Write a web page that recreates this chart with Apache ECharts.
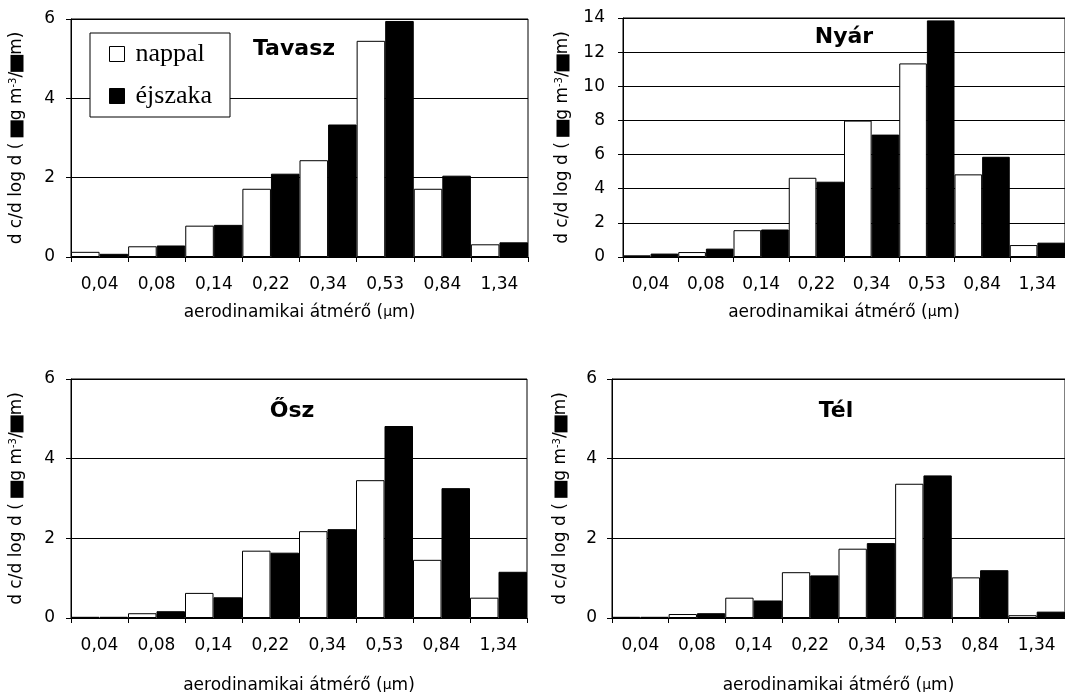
<!DOCTYPE html>
<html>
<head>
<meta charset="utf-8">
<script src="https://cdn.jsdelivr.net/npm/echarts@6/dist/echarts.min.js"></script>
<style>
  html, body { margin: 0; padding: 0; background: #fff; }
  #chart { width: 1065px; height: 696px; }
</style>
</head>
<body>
<div id="chart"></div>
<script>
// Aerodynamic diameter size classes (µm)
const categories = ['0,04', '0,08', '0,14', '0,22', '0,34', '0,53', '0,84', '1,34'];

// d c / d log d per season: daytime (nappal) and night (éjszaka)
const tavaszNappal  = [0.13, 0.27, 0.79, 1.72, 2.44, 5.45, 1.72, 0.32];
const tavaszEjszaka = [0.08, 0.29, 0.81, 2.10, 3.34, 5.95, 2.05, 0.37];

const nyarNappal  = [0.10, 0.29, 1.57, 4.64, 7.99, 11.34, 4.84, 0.70];
const nyarEjszaka = [0.20, 0.49, 1.61, 4.41, 7.17, 13.86, 5.87, 0.84];

const oszNappal  = [0.03, 0.12, 0.63, 1.69, 2.18, 3.46, 1.46, 0.51];
const oszEjszaka = [0.03, 0.17, 0.52, 1.64, 2.23, 4.82, 3.26, 1.16];

const telNappal  = [0.03, 0.10, 0.51, 1.15, 1.74, 3.37, 1.02, 0.07];
const telEjszaka = [0.03, 0.12, 0.44, 1.07, 1.88, 3.58, 1.20, 0.16];

const seasonTitles = ['Tavasz', 'Nyár', 'Ősz', 'Tél'];
const yMax = [6, 14, 6, 6];

const SANS = '"DejaVu Sans", sans-serif';
const SERIF = '"Liberation Serif", "Times New Roman", serif';

const grids = [
  { left: 71,  top: 19,  width: 457, height: 238 },
  { left: 623, top: 18,  width: 445, height: 239 },
  { left: 71,  top: 379, width: 456, height: 239 },
  { left: 612, top: 379, width: 455, height: 239 }
];
const yNameGap = [45, 51, 45, 42];
const yLabelMargin = [16, 18, 16, 15];
const xNameGap = [47, 47, 59, 59];
const titlePos = [[294, 49], [844, 37], [292, 411], [836, 411]];

const yName = 'd c/d log d ( {box|μ}g m{sup|-3}/{box|μ}m)';
const xName = 'aerodinamikai átmérő ({mu|μ}m)';

const xAxes = grids.map((g, i) => ({
  type: 'category',
  gridIndex: i,
  data: categories,
  boundaryGap: true,
  axisLine: { lineStyle: { color: '#000', width: 1 } },
  axisTick: { show: true, length: 5, lineStyle: { color: '#000' } },
  axisLabel: { color: '#000', fontSize: 17, fontFamily: SANS, margin: 19, interval: 0 },
  name: xName,
  nameLocation: 'middle',
  nameGap: xNameGap[i],
  nameTextStyle: {
    color: '#000', fontSize: 17, fontFamily: SANS,
    rich: { mu: { fontSize: 14, fontFamily: SANS, color: '#000' } }
  }
}));

const yAxes = grids.map((g, i) => ({
  type: 'value',
  gridIndex: i,
  min: 0,
  max: yMax[i],
  interval: 2,
  axisLine: { show: true, lineStyle: { color: '#000', width: 1 } },
  axisTick: { show: true, length: 5, lineStyle: { color: '#000' } },
  axisLabel: { color: '#000', fontSize: 17, fontFamily: SANS, margin: yLabelMargin[i] },
  splitLine: { show: true, lineStyle: { color: '#000', width: 1 } },
  name: yName,
  nameLocation: 'middle',
  nameRotate: 90,
  nameGap: yNameGap[i],
  nameTextStyle: {
    color: '#000', fontSize: 17, fontFamily: SANS,
    rich: {
      box: { backgroundColor: '#000', color: '#000', fontSize: 12, width: 17, height: 13, fontFamily: SANS },
      sup: { fontSize: 10, verticalAlign: 'top', padding: [0, 0, 8, 0], color: '#000', fontFamily: SANS }
    }
  }
}));

const seasonData = [
  [tavaszNappal, tavaszEjszaka],
  [nyarNappal, nyarEjszaka],
  [oszNappal, oszEjszaka],
  [telNappal, telEjszaka]
];

const series = [];
seasonData.forEach((pair, i) => {
  series.push({
    name: 'nappal', type: 'bar', xAxisIndex: i, yAxisIndex: i,
    data: pair[0], barGap: '0%', barCategoryGap: '0%',
    itemStyle: { color: '#fff', borderColor: '#000', borderWidth: 1 },
    emphasis: { disabled: true }, animation: false
  });
  series.push({
    name: 'éjszaka', type: 'bar', xAxisIndex: i, yAxisIndex: i,
    data: pair[1], barGap: '0%', barCategoryGap: '0%',
    itemStyle: { color: '#000', borderColor: '#000', borderWidth: 1 },
    emphasis: { disabled: true }, animation: false
  });
});

const chart = echarts.init(document.getElementById('chart'), null, { renderer: 'canvas' });
chart.setOption({
  backgroundColor: '#fff',
  animation: false,
  grid: grids.map(g => Object.assign({ show: true, borderColor: '#000', borderWidth: 1, backgroundColor: 'transparent', containLabel: false }, g)),
  xAxis: xAxes,
  yAxis: yAxes,
  legend: {
    left: 90, top: 33,
    orient: 'vertical',
    backgroundColor: '#fff',
    borderColor: '#000', borderWidth: 1,
    padding: [8, 18, 8, 19],
    itemGap: 16,
    itemWidth: 15, itemHeight: 15,
    icon: 'rect',
    selectedMode: false,
    textStyle: { fontFamily: SERIF, fontSize: 26, color: '#000', padding: [0, 0, 0, 6] },
    data: [
      { name: 'nappal', itemStyle: { color: '#fff', borderColor: '#000', borderWidth: 1 } },
      { name: 'éjszaka', itemStyle: { color: '#000', borderColor: '#000', borderWidth: 1 } }
    ]
  },
  graphic: seasonTitles.map((t, i) => ({
    type: 'text',
    x: titlePos[i][0], y: titlePos[i][1],
    z: 100,
    style: {
      text: t,
      font: 'bold 22px "DejaVu Sans", sans-serif',
      fill: '#000',
      align: 'center', verticalAlign: 'middle',
      textAlign: 'center', textVerticalAlign: 'middle'
    }
  })),
  series: series
});
</script>
</body>
</html>
